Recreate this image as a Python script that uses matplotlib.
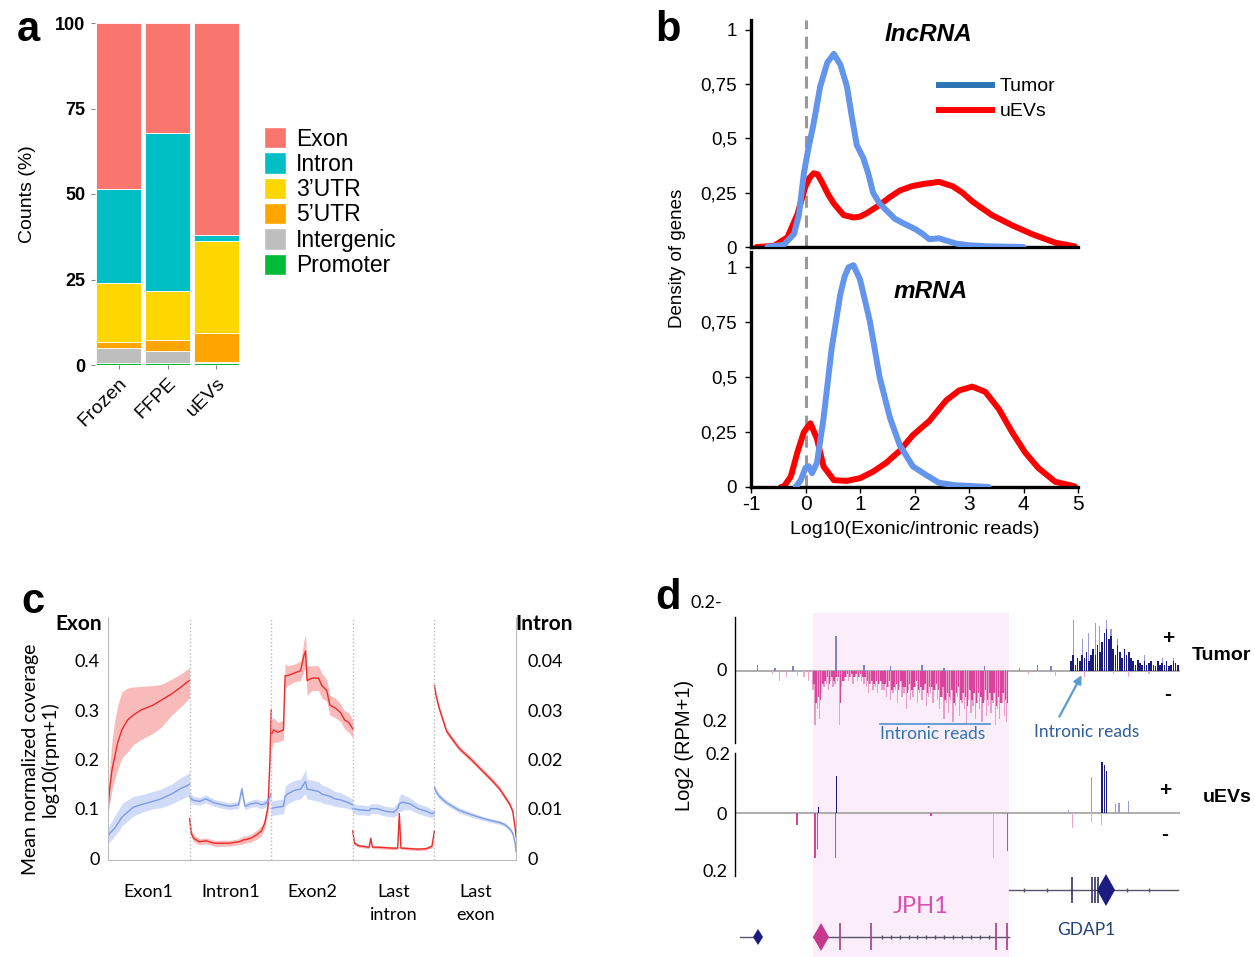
import numpy as np
import matplotlib.pyplot as plt
from matplotlib.lines import Line2D
from matplotlib.patches import Patch

W, H = 1255, 957
fig = plt.figure(figsize=(12.55, 9.57), dpi=100)


def fx(x):
    return x / W


def fy(y):
    return 1 - y / H


def box(l, t, r, b):
    return [l / W, 1 - b / H, (r - l) / W, (b - t) / H]


ARIAL = ['Liberation Sans', 'DejaVu Sans']
CALI = ['Lato', 'DejaVu Sans']

# ---------------- panel a : read distribution ----------------
samples = ['Frozen', 'FFPE', 'uEVs']
promoter = [0.5, 0.7, 0.6]
intergenic = [4.4, 3.4, 0.4]
utr5 = [1.9, 3.2, 8.5]
utr3 = [17.3, 14.4, 26.8]
intron = [27.4, 46.2, 1.7]
exon = [48.5, 32.1, 62.0]

# ---------------- panel b : density curves ----------------
lnc_tumor_x = [-0.7, -0.4, -0.21, -0.12, -0.03, 0.05, 0.15, 0.27, 0.4, 0.52, 0.64, 0.76, 0.85, 0.94,
               1.06, 1.15, 1.24, 1.36, 1.48, 1.64, 1.79, 2.03, 2.15, 2.27, 2.45, 2.6, 2.76, 3.0, 3.36, 4.0]
lnc_tumor_y = [0, 0.01, 0.06, 0.15, 0.34, 0.45, 0.57, 0.74, 0.85, 0.89, 0.84, 0.74, 0.6, 0.47,
               0.41, 0.34, 0.25, 0.2, 0.17, 0.13, 0.11, 0.08, 0.06, 0.036, 0.04, 0.028, 0.016, 0.008, 0.003, 0]
lnc_uev_x = [-0.9, -0.58, -0.33, -0.15, 0, 0.08, 0.15, 0.22, 0.3, 0.42, 0.52, 0.7, 0.88, 1.0, 1.12,
             1.36, 1.55, 1.73, 1.95, 2.15, 2.45, 2.7, 2.88, 3.06, 3.42, 3.79, 4.15, 4.58, 4.94]
lnc_uev_y = [0, 0.005, 0.045, 0.15, 0.28, 0.32, 0.34, 0.335, 0.3, 0.24, 0.2, 0.147, 0.136, 0.14, 0.155,
             0.194, 0.23, 0.26, 0.28, 0.29, 0.30, 0.28, 0.25, 0.21, 0.147, 0.10, 0.06, 0.02, 0.003]
m_tumor_x = [-0.18, -0.09, 0, 0.06, 0.12, 0.21, 0.33, 0.48, 0.64, 0.72, 0.79, 0.88, 1.0, 1.18, 1.36,
             1.55, 1.73, 1.97, 2.21, 2.45, 2.76, 3.36]
m_tumor_y = [0, 0.03, 0.087, 0.095, 0.063, 0.11, 0.31, 0.63, 0.88, 0.96, 1.0, 1.01, 0.945, 0.756, 0.5,
             0.315, 0.19, 0.094, 0.055, 0.019, 0.008, 0.0]
m_uev_x = [-0.45, -0.39, -0.27, -0.15, -0.03, 0.09, 0.21, 0.33, 0.52, 0.76, 1.0, 1.24, 1.48, 1.73, 1.97,
           2.27, 2.58, 2.82, 3.06, 3.3, 3.55, 3.79, 4.03, 4.27, 4.58, 4.94]
m_uev_y = [0, 0.005, 0.047, 0.157, 0.25, 0.29, 0.22, 0.094, 0.031, 0.028, 0.04, 0.07, 0.11, 0.165, 0.236,
           0.3, 0.394, 0.44, 0.457, 0.433, 0.354, 0.25, 0.157, 0.087, 0.024, 0.003]

# ---------------- panel c : metagene coverage ----------------
segments = ['Exon1', 'Intron1', 'Exon2', 'Last\nintron', 'Last\nexon']
seg_u = [
    [0, 0.02, 0.05, 0.08, 0.12, 0.17, 0.24, 0.31, 0.4, 0.55, 0.65, 0.78, 0.88, 0.97, 1.0],
    [0, 0.02, 0.05, 0.12, 0.2, 0.3, 0.4, 0.49, 0.6, 0.64, 0.66, 0.68, 0.75, 0.82, 0.88, 0.92, 0.96, 0.985, 1.0],
    [0, 0.03, 0.08, 0.15, 0.17, 0.2, 0.28, 0.36, 0.4, 0.42, 0.44, 0.5, 0.58, 0.62, 0.68, 0.72, 0.78, 0.85, 0.9, 0.95, 1.0],
    [0, 0.02, 0.07, 0.15, 0.2, 0.22, 0.24, 0.3, 0.4, 0.5, 0.55, 0.57, 0.59, 0.62, 0.7, 0.8, 0.9, 0.97, 1.0],
    [0, 0.02, 0.06, 0.15, 0.3, 0.45, 0.6, 0.72, 0.8, 0.86, 0.92, 0.96, 0.99, 1.0],
]
red_mean = [
    [0.10, 0.14, 0.18, 0.203, 0.235, 0.26, 0.28, 0.29, 0.30, 0.31, 0.32, 0.333, 0.345, 0.357, 0.36],
    [0.08, 0.05, 0.04, 0.033, 0.035, 0.03, 0.03, 0.03, 0.033, 0.035, 0.037, 0.037, 0.04, 0.047, 0.055, 0.07, 0.103, 0.2, 0.3],
    [0.25, 0.26, 0.255, 0.26, 0.37, 0.37, 0.375, 0.38, 0.41, 0.42, 0.36, 0.365, 0.365, 0.35, 0.34, 0.31, 0.305, 0.295, 0.28, 0.275, 0.262],
    [0.055, 0.03, 0.025, 0.023, 0.022, 0.04, 0.022, 0.022, 0.021, 0.02, 0.02, 0.09, 0.02, 0.02, 0.019, 0.018, 0.019, 0.024, 0.055],
    [0.35, 0.33, 0.303, 0.257, 0.223, 0.2, 0.175, 0.155, 0.14, 0.125, 0.11, 0.095, 0.06, 0.043],
]
red_lo = [
    [0.09, 0.11, 0.14, 0.157, 0.18, 0.203, 0.215, 0.23, 0.24, 0.253, 0.265, 0.29, 0.305, 0.32, 0.325],
    [0.07, 0.042, 0.033, 0.027, 0.029, 0.024, 0.024, 0.024, 0.027, 0.028, 0.029, 0.03, 0.032, 0.038, 0.045, 0.06, 0.09, 0.18, 0.28],
    [0.22, 0.235, 0.235, 0.24, 0.345, 0.35, 0.357, 0.36, 0.38, 0.385, 0.33, 0.34, 0.34, 0.325, 0.318, 0.29, 0.285, 0.277, 0.262, 0.255, 0.244],
    [0.051, 0.026, 0.022, 0.02, 0.019, 0.037, 0.019, 0.019, 0.018, 0.017, 0.017, 0.087, 0.017, 0.017, 0.016, 0.015, 0.016, 0.021, 0.051],
    [0.345, 0.324, 0.297, 0.251, 0.218, 0.195, 0.17, 0.15, 0.135, 0.12, 0.105, 0.09, 0.055, 0.038],
]
red_hi = [
    [0.12, 0.18, 0.24, 0.277, 0.31, 0.337, 0.345, 0.347, 0.348, 0.35, 0.352, 0.363, 0.372, 0.383, 0.385],
    [0.09, 0.058, 0.047, 0.039, 0.041, 0.036, 0.036, 0.036, 0.039, 0.042, 0.045, 0.044, 0.048, 0.056, 0.065, 0.08, 0.115, 0.22, 0.32],
    [0.28, 0.285, 0.275, 0.28, 0.395, 0.39, 0.393, 0.40, 0.44, 0.455, 0.39, 0.39, 0.39, 0.375, 0.362, 0.33, 0.325, 0.313, 0.298, 0.295, 0.28],
    [0.059, 0.034, 0.028, 0.026, 0.025, 0.043, 0.025, 0.025, 0.024, 0.023, 0.023, 0.093, 0.023, 0.023, 0.022, 0.021, 0.022, 0.027, 0.059],
    [0.355, 0.336, 0.309, 0.263, 0.228, 0.205, 0.18, 0.16, 0.145, 0.13, 0.115, 0.1, 0.065, 0.048],
]
blue_mean = [
    [0.043, 0.05, 0.055, 0.06, 0.07, 0.083, 0.093, 0.103, 0.108, 0.115, 0.12, 0.13, 0.14, 0.147, 0.15],
    [0.125, 0.12, 0.117, 0.115, 0.12, 0.112, 0.108, 0.105, 0.108, 0.14, 0.12, 0.105, 0.11, 0.112, 0.108, 0.11, 0.115, 0.125, 0.13],
    [0.1, 0.102, 0.103, 0.105, 0.125, 0.13, 0.137, 0.14, 0.15, 0.155, 0.14, 0.138, 0.135, 0.13, 0.127, 0.125, 0.12, 0.118, 0.115, 0.112, 0.108],
    [0.1, 0.1, 0.098, 0.097, 0.096, 0.1, 0.1, 0.1, 0.095, 0.093, 0.1, 0.11, 0.112, 0.113, 0.11, 0.1, 0.095, 0.09, 0.092],
    [0.143, 0.135, 0.125, 0.112, 0.097, 0.088, 0.08, 0.075, 0.072, 0.068, 0.06, 0.05, 0.03, 0.013],
]
blue_lo = [
    [0.03, 0.033, 0.038, 0.045, 0.052, 0.065, 0.075, 0.085, 0.092, 0.1, 0.102, 0.11, 0.118, 0.125, 0.128],
    [0.113, 0.11, 0.109, 0.107, 0.112, 0.105, 0.101, 0.098, 0.101, 0.132, 0.112, 0.098, 0.103, 0.104, 0.1, 0.102, 0.107, 0.115, 0.118],
    [0.085, 0.087, 0.088, 0.09, 0.105, 0.11, 0.117, 0.12, 0.128, 0.13, 0.12, 0.118, 0.115, 0.112, 0.109, 0.109, 0.105, 0.103, 0.102, 0.1, 0.096],
    [0.09, 0.09, 0.088, 0.087, 0.086, 0.09, 0.09, 0.09, 0.085, 0.083, 0.088, 0.095, 0.094, 0.098, 0.098, 0.09, 0.085, 0.082, 0.084],
    [0.137, 0.129, 0.119, 0.107, 0.092, 0.083, 0.076, 0.071, 0.068, 0.064, 0.056, 0.046, 0.026, 0.009],
]
blue_hi = [
    [0.06, 0.068, 0.075, 0.085, 0.095, 0.11, 0.118, 0.125, 0.128, 0.135, 0.14, 0.15, 0.162, 0.17, 0.175],
    [0.137, 0.13, 0.125, 0.123, 0.128, 0.119, 0.115, 0.112, 0.115, 0.148, 0.128, 0.112, 0.117, 0.12, 0.116, 0.118, 0.123, 0.135, 0.142],
    [0.115, 0.117, 0.118, 0.12, 0.145, 0.15, 0.157, 0.16, 0.172, 0.18, 0.16, 0.158, 0.155, 0.148, 0.145, 0.141, 0.135, 0.133, 0.128, 0.124, 0.12],
    [0.11, 0.11, 0.108, 0.107, 0.106, 0.11, 0.11, 0.11, 0.105, 0.103, 0.112, 0.125, 0.13, 0.128, 0.122, 0.11, 0.105, 0.098, 0.1],
    [0.149, 0.141, 0.131, 0.117, 0.102, 0.093, 0.084, 0.079, 0.076, 0.072, 0.064, 0.054, 0.034, 0.017],
]

# ---------------- panel d : genome tracks (position 0-100) ----------------
tumor_minus_pos = np.arange(17.5, 61.5, 0.5)
tumor_minus = [0.06, 0.17, 0.12, 0.15,
               0.07, 0.05, 0.04, 0.06, 0.03, 0.05, 0.04, 0.03,
               0.17, 0.05,
               0.03, 0.02, 0.03, 0.02, 0.04, 0.02, 0.03, 0.02, 0.03, 0.04,
               0.05, 0.07, 0.04, 0.06, 0.05, 0.07, 0.04, 0.06,
               0.06, 0.08, 0.05, 0.09, 0.07, 0.06, 0.10, 0.05, 0.08, 0.07, 0.12, 0.06,
               0.09, 0.08, 0.05, 0.10, 0.07, 0.09, 0.06, 0.11, 0.08, 0.07, 0.10, 0.06,
               0.09, 0.12, 0.08, 0.15, 0.10, 0.13, 0.09, 0.16, 0.11, 0.08, 0.14, 0.10,
               0.12, 0.17, 0.09, 0.13, 0.11, 0.15, 0.10, 0.12, 0.16, 0.09, 0.14, 0.11,
               0.13, 0.10, 0.17, 0.12, 0.15, 0.10, 0.14, 0.16]
tumor_minus_core = [0.04, 0.10, 0.08, 0.09,
                    0.04, 0.03, 0.02, 0.04, 0.02, 0.03, 0.02, 0.02,
                    0.10, 0.03,
                    0.02, 0.01, 0.02, 0.01, 0.02, 0.01, 0.02, 0.01, 0.02, 0.02,
                    0.03, 0.04, 0.03, 0.04, 0.03, 0.04, 0.03, 0.04,
                    0.04, 0.05, 0.03, 0.06, 0.05, 0.04, 0.06, 0.03, 0.05, 0.05, 0.07, 0.04,
                    0.06, 0.05, 0.03, 0.06, 0.05, 0.06, 0.04, 0.07, 0.05, 0.05, 0.06, 0.04,
                    0.06, 0.08, 0.05, 0.09, 0.07, 0.08, 0.06, 0.10, 0.07, 0.05, 0.09, 0.07,
                    0.08, 0.11, 0.06, 0.09, 0.07, 0.10, 0.07, 0.08, 0.10, 0.06, 0.09, 0.07,
                    0.09, 0.07, 0.11, 0.08, 0.10, 0.07, 0.09, 0.10]
tumor_minus_sparse_pos = [8.5, 10, 11.5, 14, 15.5, 16.5, 66, 72, 78.5, 85, 88.5, 93]
tumor_minus_sparse = [0.01, 0.03, 0.02, 0.015, 0.02, 0.03, 0.01, 0.015, 0.02, 0.01, 0.02, 0.01]
tumor_plus_pos = np.arange(75.5, 100, 0.5)
tumor_plus = [0.03, 0.05, 0.02, 0.04, 0.03, 0.05, 0.04, 0.06, 0.03, 0.05,
              0.07, 0.05, 0.08, 0.06, 0.09,
              0.12, 0.13, 0.10, 0.11,
              0.07, 0.05, 0.08, 0.06, 0.04, 0.07, 0.05, 0.06, 0.04,
              0.03, 0.02, 0.035, 0.025, 0.02, 0.03, 0.02, 0.025, 0.03, 0.02, 0.015,
              0.03, 0.02, 0.025, 0.02, 0.03, 0.015, 0.02, 0.03, 0.025, 0.02]
tumor_plus_light_pos = [76, 78, 79.5, 81, 82, 83.5, 84.5, 86, 87.5, 92, 96, 98.5]
tumor_plus_light = [0.16, 0.10, 0.12, 0.15, 0.14, 0.16, 0.13, 0.10, 0.07, 0.05, 0.04, 0.04]
tumor_plus_sparse_pos = [5, 9, 13, 22.7, 29, 35, 42, 47, 56, 64, 68, 71]
tumor_plus_sparse = [0.02, 0.01, 0.015, 0.11, 0.02, 0.015, 0.02, 0.01, 0.015, 0.01, 0.02, 0.015]

uev_plus_pos = [18.8, 22.8, 82.5, 83, 83.5]
uev_plus = [0.02, 0.125, 0.17, 0.16, 0.14]
uev_plus_light_pos = [75, 80.2, 85.5, 86.3, 88.5]
uev_plus_light = [0.01, 0.12, 0.03, 0.035, 0.04]
uev_minus_pos = [13.9, 18.0, 18.5, 22.6, 44, 61.2]
uev_minus = [0.04, 0.15, 0.12, 0.15, 0.01, 0.125]
uev_minus_light_pos = [58.1, 75.8, 80.2, 82.4]
uev_minus_light = [0.15, 0.05, 0.03, 0.04]

# ======================= draw panel a =======================
colors_a = {'Exon': '#F8766D', 'Intron': '#00BFC4', '3’UTR': '#FFD700',
            '5’UTR': '#FFA500', 'Intergenic': '#BEBEBE', 'Promoter': '#00BA38'}
ax_a = fig.add_axes(box(95, 23, 240, 365))
xa = np.arange(len(samples))
bottom = np.zeros(3)
for name, vals in [('Promoter', promoter), ('Intergenic', intergenic), ('5’UTR', utr5),
                   ('3’UTR', utr3), ('Intron', intron), ('Exon', exon)]:
    ax_a.bar(xa, vals, bottom=bottom, width=0.9, color=colors_a[name],
             edgecolor='white', linewidth=0.6)
    bottom += np.array(vals)
ax_a.set_xlim(-0.48, 2.48)
ax_a.set_ylim(0, 100)
for s in ax_a.spines.values():
    s.set_visible(False)
ax_a.set_yticks([0, 25, 50, 75, 100])
ax_a.set_yticklabels(['0', '25', '50', '75', '100'], fontweight='bold', fontsize=13, family=ARIAL)
ax_a.set_xticks(xa)
ax_a.set_xticklabels(samples, rotation=45, ha='right', rotation_mode='anchor', fontsize=14, family=ARIAL)
ax_a.tick_params(length=3, color='#888888', pad=4)
ax_a.set_ylabel('Counts (%)', fontsize=14, family=ARIAL, labelpad=14)
handles = [Patch(facecolor=colors_a[k], edgecolor='white') for k in
           ['Exon', 'Intron', '3’UTR', '5’UTR', 'Intergenic', 'Promoter']]
fig.legend(handles, ['Exon', 'Intron', '3’UTR', '5’UTR', 'Intergenic', 'Promoter'],
           loc='upper left', bbox_to_anchor=(fx(255), fy(118)), frameon=False,
           prop={'family': ARIAL, 'size': 16.5}, handlelength=0.95, handleheight=1.05,
           handletextpad=0.45, labelspacing=0.08, borderaxespad=0)

# ======================= draw panel b =======================
blue_b = '#6495ED'
red_b = '#FF0000'
ax_b1 = fig.add_axes(box(751, 20, 1078, 247))
ax_b2 = fig.add_axes(box(751, 252, 1078, 487))
for ax, (tx, ty, ux, uy), top in [(ax_b1, (lnc_tumor_x, lnc_tumor_y, lnc_uev_x, lnc_uev_y), 1.046),
                                   (ax_b2, (m_tumor_x, m_tumor_y, m_uev_x, m_uev_y), 1.07)]:
    ax.axvline(0, color='#999999', lw=2.2, ls=(0, (4, 2.5)), zorder=1)
    ax.plot(ux, uy, color=red_b, lw=4.3, solid_joinstyle='round', solid_capstyle='round', zorder=2)
    ax.plot(tx, ty, color=blue_b, lw=4.3, solid_joinstyle='round', solid_capstyle='round', zorder=3)
    ax.set_xlim(-1, 5)
    ax.set_ylim(0, top)
    ax.spines['top'].set_visible(False)
    ax.spines['right'].set_visible(False)
    ax.spines['left'].set_linewidth(2.4)
    ax.spines['bottom'].set_linewidth(2.4)
    ax.set_yticks([0, 0.25, 0.5, 0.75, 1])
    ax.set_yticklabels(['0', '0,25', '0,5', '0,75', '1'], fontsize=13.5, family=ARIAL)
    ax.tick_params(axis='y', length=4, width=1, pad=6)
ax_b1.set_xticks([])
ax_b2.set_xticks(range(-1, 6))
ax_b2.set_xticklabels(['-1', '0', '1', '2', '3', '4', '5'], fontsize=15, family=ARIAL)
ax_b2.tick_params(axis='x', length=4, width=1, pad=2)
ax_b2.set_xlabel('Log10(Exonic/intronic reads)', fontsize=14, family=ARIAL, labelpad=5)
ax_b1.text(2.25, 0.98, 'lncRNA', fontsize=17.5, fontweight='bold', style='italic', family=ARIAL,
           ha='center', va='center')
ax_b2.text(2.3, 0.89, 'mRNA', fontsize=17.5, fontweight='bold', style='italic', family=ARIAL,
           ha='center', va='center')
ax_b1.legend([Line2D([], [], color='#2E75B6', lw=4.3), Line2D([], [], color=red_b, lw=4.3)],
             ['Tumor', 'uEVs'], loc='upper left', bbox_to_anchor=(0.55, 0.78), frameon=False,
             prop={'family': ARIAL, 'size': 14}, handlelength=2.75, handletextpad=0.4,
             labelspacing=0.38, borderaxespad=0)
fig.text(fx(677), fy(258), 'Density of genes', rotation=90, ha='center', va='center',
         fontsize=13.5, family=ARIAL)

# ======================= draw panel c =======================
red_c = '#EE2A2A'
blue_c = '#7E9CE3'
ax_c = fig.add_axes(box(108, 617, 516, 860))
for i in range(len(segments)):
    xs = i + np.array(seg_u[i])
    ax_c.fill_between(xs, red_lo[i], red_hi[i], color='#F7A3A3', alpha=0.75, lw=0)
    ax_c.plot(xs, red_mean[i], color=red_c, lw=1.0)
    ax_c.fill_between(xs, blue_lo[i], blue_hi[i], color='#C3D2F5', alpha=0.8, lw=0)
    ax_c.plot(xs, blue_mean[i], color=blue_c, lw=1.0)
for d in range(1, 5):
    ax_c.axvline(d, color='#BBBBBB', lw=1.0, ls=':')
ax_c.set_xlim(0, 5)
ax_c.set_ylim(-0.004, 0.489)
ax_c.spines['top'].set_visible(False)
for k in ['left', 'right', 'bottom']:
    ax_c.spines[k].set_color('#BBBBBB')
ax_c.set_yticks([0, 0.1, 0.2, 0.3, 0.4])
ax_c.set_yticklabels(['0', '0.1', '0.2', '0.3', '0.4'], fontsize=13, family=CALI)
ax_c.set_xticks([0.5, 1.5, 2.5, 3.5, 4.5])
ax_c.set_xticklabels(segments, fontsize=13, family=CALI, linespacing=1.55)
ax_c.tick_params(length=0, pad=17)
ax_c.tick_params(axis='y', pad=6)
ax_c2 = ax_c.twinx()
ax_c2.set_ylim(-0.0004, 0.0489)
ax_c2.set_yticks([0, 0.01, 0.02, 0.03, 0.04])
ax_c2.set_yticklabels(['0', '0.01', '0.02', '0.03', '0.04'], fontsize=13, family=CALI)
ax_c2.tick_params(length=0, pad=8)
for s in ax_c2.spines.values():
    s.set_visible(False)
fig.text(fx(79), fy(624), 'Exon', fontsize=15, fontweight='bold', family=CALI, ha='center', va='center')
fig.text(fx(544), fy(624), 'Intron', fontsize=15, fontweight='bold', family=CALI, ha='center', va='center')
fig.text(fx(40), fy(759), 'Mean normalized coverage\nlog10(rpm+1)', rotation=90, ha='center',
         va='center', fontsize=14, family=CALI, linespacing=1.1)

# ======================= draw panel d =======================
navy = '#1C1C80'
pink = '#D9449C'
ax_bg = fig.add_axes(box(735, 613, 1180, 957))
ax_bg.set_xlim(0, 100)
ax_bg.axvspan(17.5, 61.5, color='#FCEDFB', lw=0)
ax_bg.axis('off')

ax_t = fig.add_axes(box(735, 600, 1180, 745))
ax_t.set_ylim(-0.231, 0.222)
ax_u = fig.add_axes(box(735, 745, 1180, 885))
ax_u.set_ylim(-0.24, 0.227)
for ax in (ax_t, ax_u):
    ax.set_facecolor('none')
    ax.set_xlim(0, 100)
    ax.axhline(0, color='#A0A0A0', lw=1.2, zorder=1)
    for k in ['top', 'right', 'bottom']:
        ax.spines[k].set_visible(False)
    ax.spines['left'].set_linewidth(1.0)
    ax.set_xticks([])
    ax.set_yticks([])
ax_t.spines['left'].set_bounds(-0.225, 0.169)
ax_u.spines['left'].set_bounds(-0.21, 0.2)

ax_t.bar(tumor_minus_pos, -np.array(tumor_minus), width=0.3, color='#EA9CCB', lw=0, zorder=2)
ax_t.bar(tumor_minus_pos + 0.25, -np.array(tumor_minus_core), width=0.35, color=pink, lw=0, zorder=3)
ax_t.bar(tumor_minus_sparse_pos, -np.array(tumor_minus_sparse), width=0.3, color='#EFA3CE', lw=0, zorder=2)
ax_t.bar(tumor_plus_light_pos, tumor_plus_light, width=0.25, color='#9A9AD6', lw=0, zorder=2)
ax_t.bar(tumor_plus_pos, tumor_plus, width=0.35, color=navy, lw=0, zorder=3)
ax_t.bar(tumor_plus_sparse_pos, tumor_plus_sparse, width=0.3, color='#8080C8', lw=0, zorder=2)

ax_u.bar(uev_plus_light_pos, uev_plus_light, width=0.25, color='#9A9AD6', lw=0, zorder=2)
ax_u.bar(uev_plus_pos, uev_plus, width=0.35, color=navy, lw=0, zorder=3)
ax_u.bar(uev_minus_pos, -np.array(uev_minus), width=0.35, color=pink, lw=0, zorder=2)
ax_u.bar(uev_minus_light_pos, -np.array(uev_minus_light), width=0.25, color='#EFA3CE', lw=0, zorder=2)

# intronic read labels
ax_t.plot([32.6, 57.3], [-0.166, -0.166], color='#5B9BD5', lw=1.3, clip_on=False)
ax_t.text(44.5, -0.198, 'Intronic reads', color='#2E75B6', fontsize=12.5, family=CALI,
          ha='center', va='center', clip_on=False)
ax_t.annotate('', xy=(78.2, -0.005), xytext=(72.6, -0.15),
              arrowprops=dict(arrowstyle='-|>', color='#5B9BD5', lw=1.6, mutation_scale=12),
              annotation_clip=False)
ax_t.text(79.0, -0.19, 'Intronic reads', color='#2E5E9A', fontsize=12.5, family=CALI,
          ha='center', va='center', clip_on=False)

# gene models
ax_g = fig.add_axes(box(735, 870, 1180, 957))
ax_g.set_facecolor('none')
ax_g.set_xlim(0, 100)
ax_g.set_ylim(0, 1)
ax_g.axis('off')
ax_g.plot([1.1, 5.2], [0.23, 0.23], color='#555577', lw=1)
ax_g.plot([5.2], [0.23], marker='d', color=navy, ms=8, mew=0)
ax_g.plot([17.5, 61.6], [0.23, 0.23], color='#555566', lw=1)
ax_g.plot([19.3], [0.23], marker='d', color='#C8388F', ms=14, mew=0)
ax_g.vlines([23.5, 30.5, 58.6, 61.2], 0.08, 0.39, color='#A0407F', lw=1.2)
ax_g.plot(np.arange(33, 58, 2), [0.23] * 13, ls='none', marker='|', ms=2.5, color='#555566')
ax_g.plot([61.6, 99.6], [0.77, 0.77], color='#555566', lw=1)
ax_g.vlines([75.8, 80.2, 81.0, 81.5], 0.62, 0.92, color='#333366', lw=1.2)
ax_g.plot([83.3], [0.77], marker='d', color=navy, ms=16, mew=0)
ax_g.plot([65, 70, 88, 93], [0.77] * 4, ls='none', marker='|', ms=2.5, color='#555566')
ax_g.text(41.7, 0.58, 'JPH1', color='#D94FB0', fontsize=17, family=CALI, ha='center', va='center')
ax_g.text(79.0, 0.31, 'GDAP1', color='#22407A', fontsize=12.5, family=CALI, ha='center', va='center')

for txt, x, y in [('0.2-', 706, 603), ('0', 722, 671), ('0.2', 715, 722),
                  ('0.2', 718, 755), ('0', 722, 815), ('0.2', 715, 872)]:
    fig.text(fx(x), fy(y), txt, fontsize=13, family=CALI, ha='center', va='center')
fig.text(fx(685), fy(745), 'Log2 (RPM+1)', rotation=90, ha='center', va='center',
         fontsize=14.5, family=ARIAL)
for txt, x, y in [('+', 1168, 638), ('-', 1168, 695), ('+', 1165, 790), ('-', 1165, 835)]:
    fig.text(fx(x), fy(y), txt, fontsize=15, fontweight='bold', family=ARIAL, ha='center', va='center')
fig.text(fx(1192), fy(656), 'Tumor', fontsize=14, fontweight='bold', family=ARIAL, ha='left', va='center')
fig.text(fx(1203), fy(797), 'uEVs', fontsize=14, fontweight='bold', family=ARIAL, ha='left', va='center')

# panel letters
for letter, x, y in [('a', 28, 30), ('b', 668, 30), ('c', 33, 602), ('d', 668, 598)]:
    fig.text(fx(x), fy(y), letter, fontsize=30, fontweight='bold', family=ARIAL, ha='center', va='center')

fig.savefig('out.png', dpi=100)
